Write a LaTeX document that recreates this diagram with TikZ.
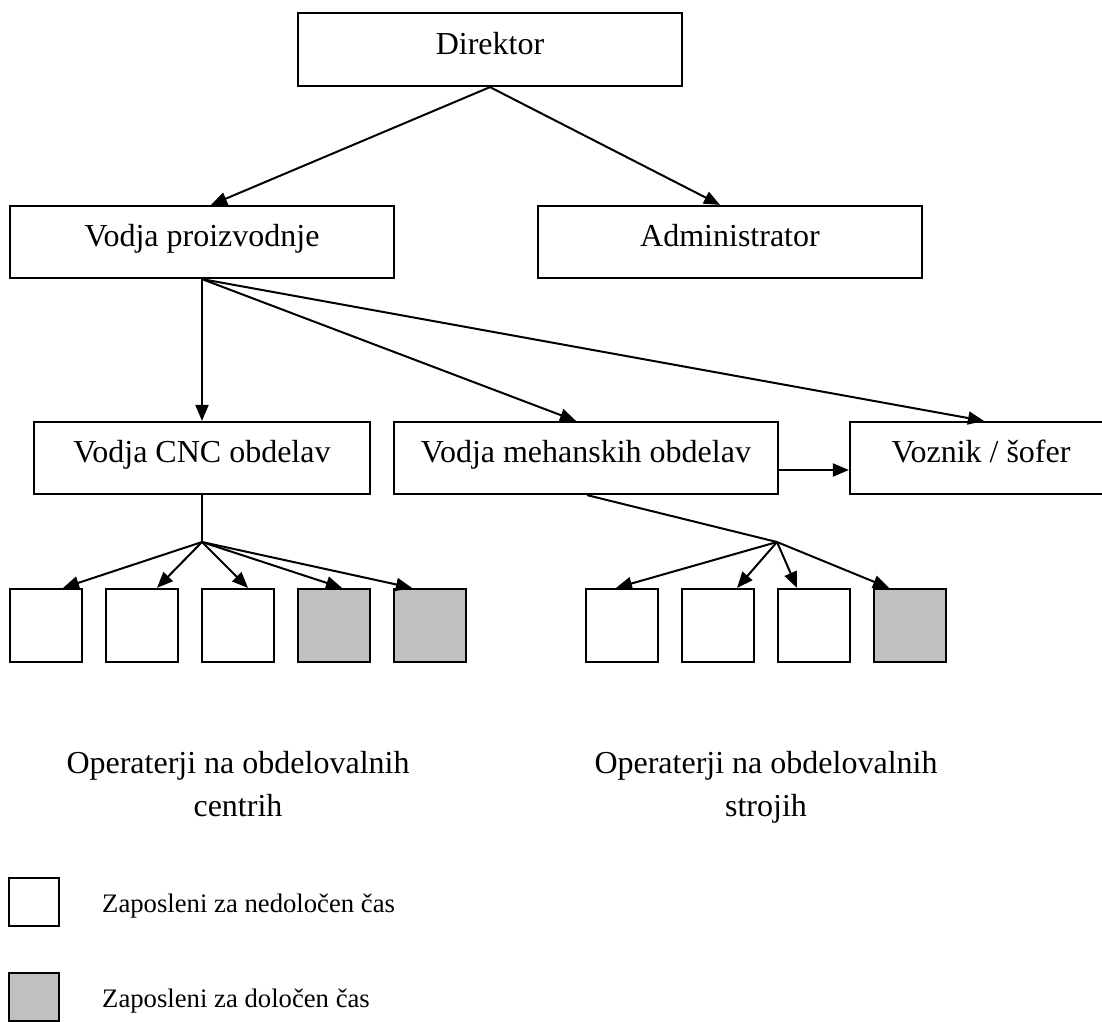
\documentclass[tikz,border=0pt]{standalone}
\usepackage{fontspec}
\setmainfont{Liberation Serif}
\usetikzlibrary{arrows.meta}
\definecolor{tempgray}{RGB}{192,192,192}
\begin{document}
\begin{tikzpicture}[x=1pt,y=-1pt,
  box/.style={draw,line width=2.2pt,minimum width=384pt,minimum height=72pt,inner sep=0pt,
    font=\fontsize{32}{38}\selectfont,text height=22pt,text depth=13pt},
  emp/.style={draw,line width=2.2pt,minimum width=72pt,minimum height=73pt,inner sep=0pt,fill=white},
  tmp/.style={emp,fill=tempgray},
  leg/.style={draw,line width=2.2pt,minimum width=50pt,minimum height=48pt,inner sep=0pt},
  big/.style={font=\fontsize{32}{38}\selectfont,inner sep=0pt,anchor=base},
  small/.style={font=\fontsize{26.7}{32}\selectfont,inner sep=0pt,anchor=base west},
  conn/.style={line width=2pt},
  arr/.style={line width=2pt,-{Triangle[length=16pt,width=13pt]}}]
\useasboundingbox (0,0) rectangle (1102,1021);
\clip (0,0) rectangle (1102,1021);
\fill[white] (0,0) rectangle (1102,1021);

% main boxes
\node[box,minimum height=73pt] (dir) at (490,49.5) {Direktor};
\node[box] (vp)  at (202,242) {Vodja proizvodnje};
\node[box] (adm) at (730,242) {Administrator};
\node[box,minimum width=336pt] (cnc) at (202,458) {Vodja CNC obdelav};
\node[box] (meh) at (586,458) {Vodja mehanskih obdelav};
\node[box,minimum width=262pt] (voz) at (981,458) {Voznik / šofer};

% operator boxes
\node[emp] (c1) at (46,625.5) {};
\node[emp] (c2) at (142,625.5) {};
\node[emp] (c3) at (238,625.5) {};
\node[tmp] (c4) at (334,625.5) {};
\node[tmp] (c5) at (430,625.5) {};
\node[emp] (m1) at (622,625.5) {};
\node[emp] (m2) at (718,625.5) {};
\node[emp] (m3) at (814,625.5) {};
\node[tmp] (m4) at (910,625.5) {};

\coordinate (j1) at (202,542);
\coordinate (j2) at (777,542);

% connectors
\draw[arr] (dir.south) -- ([xshift=9pt]vp.north);
\draw[arr] (dir.south) -- ([xshift=-10pt]adm.north);
\draw[arr] (vp.south) -- (cnc.north);
\draw[arr] (vp.south) -- ([xshift=-10pt]meh.north);
\draw[arr] (vp.south) -- ([xshift=3pt]voz.north);
\draw[arr] ([yshift=-12pt]meh.east) -- ([yshift=-12pt]voz.west);

\draw[conn] (cnc.south) -- (j1);
\draw[arr] (j1) -- ([xshift=17pt]c1.north);
\draw[arr] (j1) -- ([xshift=15pt]c2.north);
\draw[arr] (j1) -- ([xshift=10pt]c3.north);
\draw[arr] (j1) -- ([xshift=8pt]c4.north);
\draw[arr] (j1) -- ([xshift=-18pt]c5.north);

\draw[conn] ([xshift=1pt]meh.south) -- (j2);
\draw[arr] (j2) -- ([xshift=-6pt]m1.north);
\draw[arr] (j2) -- ([xshift=19pt]m2.north);
\draw[arr] (j2) -- ([xshift=-17pt]m3.north);
\draw[arr] (j2) -- ([xshift=-21pt]m4.north);

% group captions
\node[big] (op1a) at (238,773) {Operaterji na obdelovalnih};
\node[big] (op1b) at (238,816) {centrih};
\node[big] (op2a) at (766,773) {Operaterji na obdelovalnih};
\node[big] (op2b) at (766,816) {strojih};

% legend
\node[leg] (l1) at (34,902) {};
\node[leg,fill=tempgray] (l2) at (34,997) {};
\node[small] (t1) at (102,912) {Zaposleni za nedoločen čas};
\node[small] (t2) at (102,1007) {Zaposleni za določen čas};
\end{tikzpicture}
\end{document}
